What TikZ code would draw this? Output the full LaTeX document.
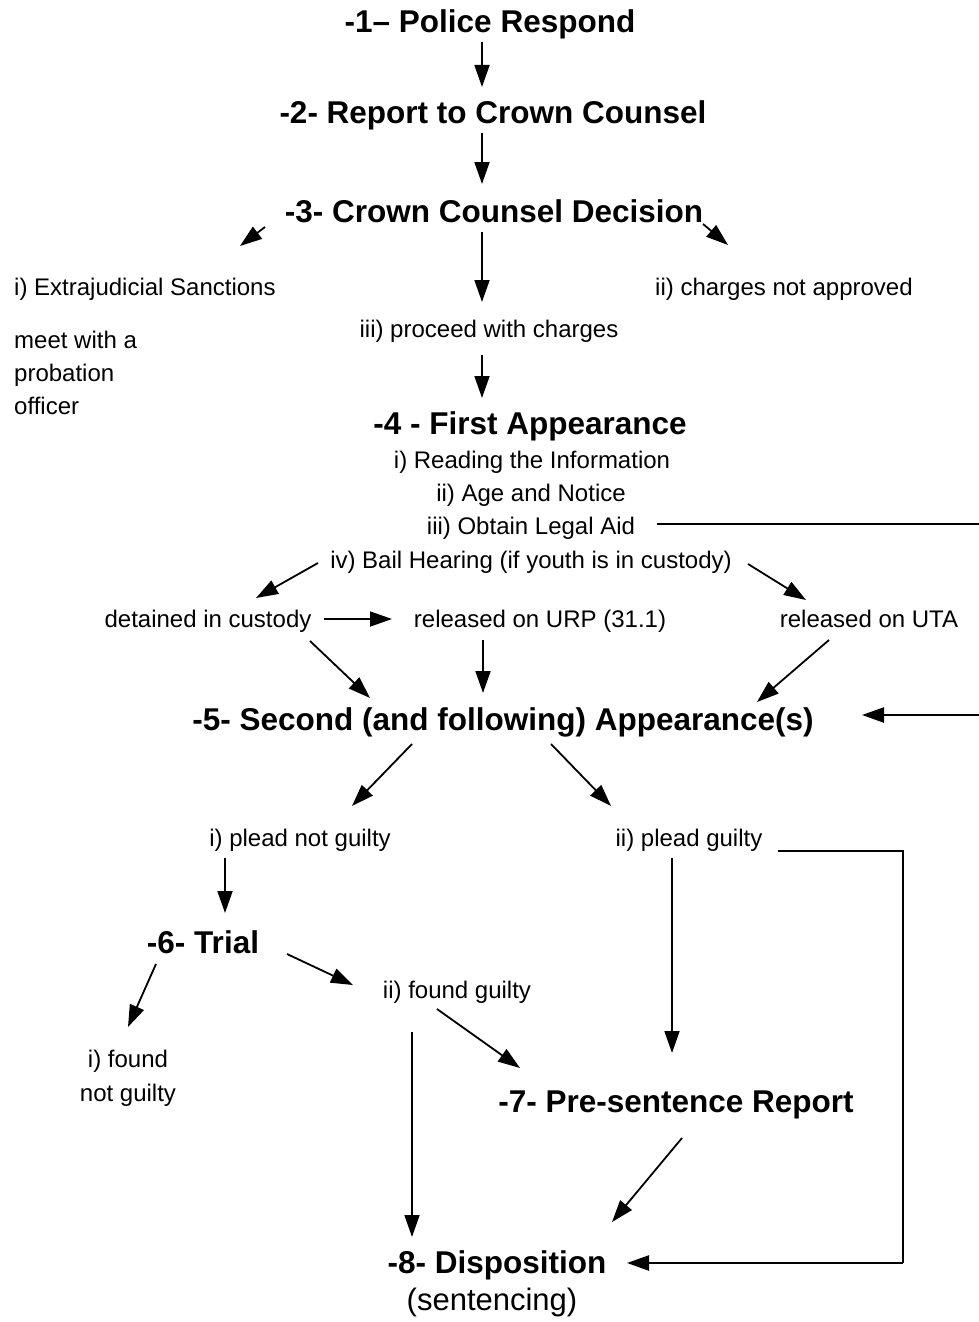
\documentclass[tikz,border=0pt]{standalone}
\usepackage{fontspec}
\setmainfont{Liberation Sans}
\usetikzlibrary{arrows.meta}
\begin{document}
\begin{tikzpicture}[x=1pt,y=-1pt,
  txt/.style={inner sep=0pt,anchor=mid,yshift=-6pt,font=\fontsize{24}{28}\selectfont},
  txtw/.style={txt,anchor=mid west},
  head/.style={inner sep=0pt,anchor=mid,yshift=-8pt,font=\fontsize{31.5}{36}\selectfont\bfseries},
  sub/.style={inner sep=0pt,anchor=mid,yshift=-8pt,font=\fontsize{31}{36}\selectfont},
  arr/.style={line width=1.8pt,-{Triangle[length=22pt,width=15pt]}},
  ln/.style={line width=2.4pt}]
\useasboundingbox (0,0) rectangle (979,1322);

% nodes
\node[head] (n1) at (490,22) {-1– Police Respond};
\node[head] (n2) at (493,113) {-2- Report to Crown Counsel};
\node[head] (n3) at (494,212) {-3- Crown Counsel Decision};
\node[txtw] (ejs) at (14,287) {i) Extrajudicial Sanctions};
\node[txtw] (cna) at (655,287) {ii) charges not approved};
\node[txt] (pwc) at (489,329) {iii) proceed with charges};
\node[txtw] (m1) at (14,340) {meet with a};
\node[txtw] (m2) at (14,373) {probation};
\node[txtw] (m3) at (14,406) {officer};
\node[head] (n4) at (530,424) {-4 - First Appearance};
\node[txt] (rd) at (532,460) {i) Reading the Information};
\node[txt] (age) at (531,493) {ii) Age and Notice};
\node[txt] (la) at (531,526) {iii) Obtain Legal Aid};
\node[txt] (bail) at (531,560) {iv) Bail Hearing (if youth is in custody)};
\node[txt] (det) at (208,619) {detained in custody};
\node[txt] (urp) at (540,619) {released on URP (31.1)};
\node[txt] (uta) at (869,619) {released on UTA};
\node[head] (n5) at (503,720) {-5- Second (and following) Appearance(s)};
\node[txt] (png) at (300,838) {i) plead not guilty};
\node[txt] (pg) at (689,838) {ii) plead guilty};
\node[head] (n6) at (203,943) {-6- Trial};
\node[txt] (fg) at (457,990) {ii) found guilty};
\node[txt] (fng1) at (128,1059) {i) found};
\node[txt] (fng2) at (128,1093) {not guilty};
\node[head] (n7) at (676,1102) {-7- Pre-sentence Report};
\node[head] (n8) at (497,1263) {-8- Disposition};
\node[sub] (sent) at (492,1300) {(sentencing)};

% connector end points
\coordinate (a1s) at (482,42);   \coordinate (a1e) at (482,87);
\coordinate (a2s) at (482,133);  \coordinate (a2e) at (482,184);
\coordinate (a3s) at (265,227);  \coordinate (a3e) at (240,246);
\coordinate (a4s) at (703,224);  \coordinate (a4e) at (728,245);
\coordinate (a5s) at (482,232);  \coordinate (a5e) at (482,302);
\coordinate (a6s) at (482,355);  \coordinate (a6e) at (482,398);
\coordinate (a7s) at (318,563);  \coordinate (a7e) at (256,598);
\coordinate (a8s) at (748,564);  \coordinate (a8e) at (806,600);
\coordinate (a9s) at (324,619);  \coordinate (a9e) at (392,619);
\coordinate (a10s) at (310,641); \coordinate (a10e) at (370,698);
\coordinate (a11s) at (483,640); \coordinate (a11e) at (483,693);
\coordinate (a12s) at (829,640); \coordinate (a12e) at (757,702);
\coordinate (la1) at (657,524);  \coordinate (la2) at (986,524);
\coordinate (la3) at (986,715);  \coordinate (la4) at (862,715);
\coordinate (a14s) at (412,744); \coordinate (a14e) at (352,806);
\coordinate (a15s) at (551,744); \coordinate (a15e) at (611,806);
\coordinate (a16s) at (225,858); \coordinate (a16e) at (225,913);
\coordinate (a17s) at (156,964); \coordinate (a17e) at (128,1027);
\coordinate (a18s) at (287,954); \coordinate (a18e) at (353,985);
\coordinate (a19s) at (437,1009);\coordinate (a19e) at (520,1068);
\coordinate (a20s) at (412,1032);\coordinate (a20e) at (412,1237);
\coordinate (a21s) at (672,858); \coordinate (a21e) at (672,1053);
\coordinate (a22s) at (682,1138);\coordinate (a22e) at (612,1222);
\coordinate (pg1) at (778,851);  \coordinate (pg2) at (903,851);
\coordinate (pg3) at (903,1263); \coordinate (pg4) at (627,1263);

% connectors
\draw[arr] (a1s) -- (a1e);
\draw[arr] (a2s) -- (a2e);
\draw[arr] (a3s) -- (a3e);
\draw[arr] (a4s) -- (a4e);
\draw[arr] (a5s) -- (a5e);
\draw[arr] (a6s) -- (a6e);
\draw[arr] (a7s) -- (a7e);
\draw[arr] (a8s) -- (a8e);
\draw[arr] (a9s) -- (a9e);
\draw[arr] (a10s) -- (a10e);
\draw[arr] (a11s) -- (a11e);
\draw[arr] (a12s) -- (a12e);
\draw[ln] (la1) -- (la2) -- (la3);
\draw[arr,line width=2.4pt] (la3) -- (la4);
\draw[arr] (a14s) -- (a14e);
\draw[arr] (a15s) -- (a15e);
\draw[arr] (a16s) -- (a16e);
\draw[arr] (a17s) -- (a17e);
\draw[arr] (a18s) -- (a18e);
\draw[arr] (a19s) -- (a19e);
\draw[arr] (a20s) -- (a20e);
\draw[arr] (a21s) -- (a21e);
\draw[arr] (a22s) -- (a22e);
\draw[ln] (pg1) -- (pg2) -- (pg3);
\draw[arr,line width=2.4pt] (pg3) -- (pg4);
\end{tikzpicture}
\end{document}
